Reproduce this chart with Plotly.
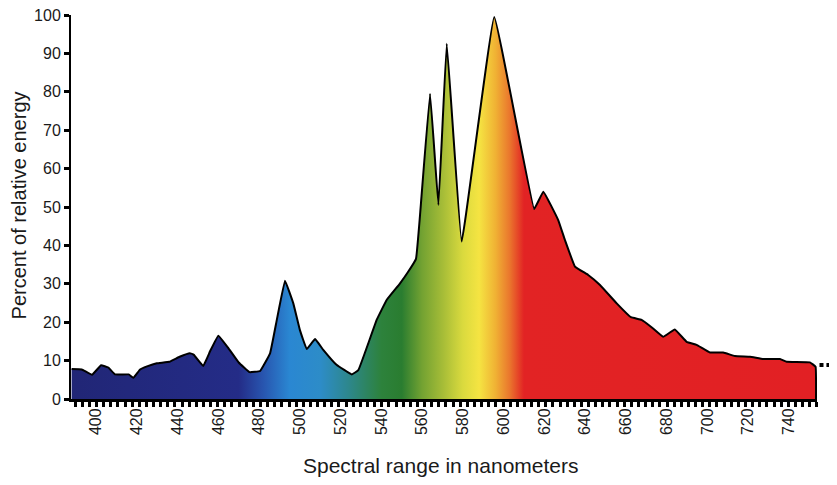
import plotly.graph_objects as go

# Wavelength (nm) and relative energy (%)
wavelength = [388, 393, 398, 402.5, 406, 409.3, 416, 418.3, 421.6, 425, 429.8, 436,
              441, 446, 448, 452.6, 456, 460, 465, 470, 475.3, 480.5, 485.4, 488.7,
              492.7, 496.8, 500, 503.4, 507.5, 511.5, 518, 525.5, 528.7, 533.6, 537.7,
              542.6, 549, 553, 557, 559, 563.9, 568, 572.1, 579.4, 595.4, 615, 619.5,
              626.8, 630.1, 635, 641.5, 647.3, 655.5, 662.5, 667.7, 672.6, 678.3, 684,
              689.8, 694.7, 701.3, 707.8, 713.5, 720.9, 727.4, 735.6, 738.9, 750.3,
              753.1, 753.3]
energy = [7.8, 7.7, 6.3, 8.8, 8.2, 6.4, 6.4, 5.5, 7.7, 8.5, 9.3, 9.7,
          11.0, 11.9, 11.5, 8.6, 12.5, 16.5, 13.2, 9.5, 7.0, 7.3, 11.9, 20.6,
          30.8, 24.9, 18.0, 13.0, 15.6, 12.8, 8.9, 6.4, 7.5, 14.5, 20.6,
          25.8, 30.0, 33.0, 36.5, 48.0, 79.5, 50.5, 92.5, 41.0, 99.5, 49.5, 54.0,
          46.6, 41.4, 34.5, 32.3, 29.7, 24.9, 21.3, 20.6, 18.7, 16.2, 18.1,
          14.9, 14.1, 12.1, 12.1, 11.2, 11.0, 10.4, 10.4, 9.7, 9.55,
          8.4, 0]

# Spectrum colour stops (nm, colour)
color_nm = [388, 470, 482, 495, 510, 524, 540, 550, 560, 570, 580, 588, 596, 603, 610, 754]
color_rgb = ["rgb(33,38,118)", "rgb(36,44,135)", "rgb(40,85,175)", "rgb(42,135,210)",
             "rgb(45,140,200)", "rgb(45,135,140)", "rgb(45,130,60)", "rgb(42,125,48)",
             "rgb(115,162,50)", "rgb(165,188,55)", "rgb(218,218,62)", "rgb(245,228,66)",
             "rgb(240,178,52)", "rgb(234,118,45)", "rgb(226,35,36)", "rgb(226,32,36)"]

# the short dotted mark at the right edge
dots_x = [756, 759.4, 762.6]
dots_y = [8.85, 8.85, 8.85]

xticks = list(range(400, 741, 20))
yticks = list(range(0, 101, 10))

g0, g1 = color_nm[0], color_nm[-1]
colorscale = [[(n - g0) / (g1 - g0), c] for n, c in zip(color_nm, color_rgb)]

fig = go.Figure()
fig.add_trace(go.Scatter(
    x=wavelength, y=energy, mode="lines", fill="tozeroy",
    line=dict(color="black", width=2, shape="spline", smoothing=0.22),
    fillgradient=dict(type="horizontal", colorscale=colorscale, start=g0, stop=g1),
    hoverinfo="skip", showlegend=False))
fig.add_trace(go.Scatter(
    x=dots_x, y=dots_y, mode="markers", xaxis="x2", yaxis="y", cliponaxis=False,
    marker=dict(symbol="square", size=4, color="black"),
    hoverinfo="skip", showlegend=False))

font = "Liberation Sans, Arial, sans-serif"
main_end = 0.9739
fig.update_layout(
    width=837, height=485,
    margin=dict(l=63, r=8, t=7, b=94),
    paper_bgcolor="white", plot_bgcolor="white",
    font=dict(family=font, color="#1a1a1a"),
    xaxis=dict(
        domain=[0, main_end],
        range=[387.7, 753.8], tickvals=xticks, ticktext=[str(v) for v in xticks],
        tickangle=-90, tickfont=dict(size=16), ticks="", automargin=False,
        ticklabeloverflow="allow",
        showline=True, linecolor="black", linewidth=3, showgrid=False, zeroline=False,
        minor=dict(ticks="outside", dtick=3.5, tick0=389.7, ticklen=5, tickwidth=3,
                   tickcolor="black", showgrid=False),
    ),
    xaxis2=dict(domain=[main_end, 1], range=[753.8, 763.6], anchor="y",
                visible=False, showgrid=False, zeroline=False),
    yaxis=dict(
        range=[0, 100], tickvals=yticks, tickfont=dict(size=16), automargin=False,
        ticklabeloverflow="allow",
        ticks="outside", ticklen=5, tickwidth=3, tickcolor="black",
        showline=True, linecolor="black", linewidth=2, showgrid=False, zeroline=False,
    ),
    annotations=[
        dict(text="Spectral range in nanometers", xref="paper", yref="paper",
             x=0.483, y=-0.172, xanchor="center", yanchor="middle", showarrow=False,
             font=dict(size=21, color="#1a1a1a")),
        dict(text="Percent of relative energy", xref="paper", yref="paper",
             x=-0.0685, y=0.503, xanchor="center", yanchor="middle", showarrow=False,
             textangle=-90, font=dict(size=20, color="#1a1a1a")),
    ],
)

fig.write_html("out.html")
